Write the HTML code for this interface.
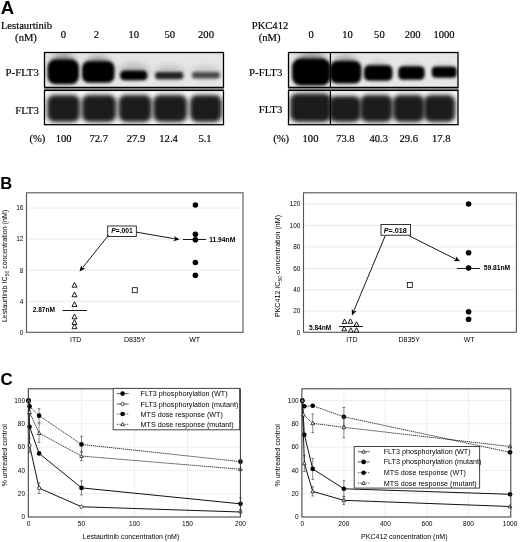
<!DOCTYPE html>
<html><head><meta charset="utf-8"><style>
html,body{margin:0;padding:0;background:#fff;}
svg{display:block;will-change:transform;}
text{font-family:"Liberation Sans",sans-serif;}
text.s{font-family:"Liberation Serif",serif;stroke:#000;stroke-width:0.18px;}
</style></head><body>
<svg width="520" height="542" viewBox="0 0 520 542">
<defs>
<filter id="b2" x="-50%" y="-50%" width="200%" height="200%"><feGaussianBlur stdDeviation="2"/></filter>
<filter id="b3" x="-50%" y="-50%" width="200%" height="200%"><feGaussianBlur stdDeviation="3"/></filter>
<clipPath id="cl1"><rect x="44.5" y="52.5" width="179" height="34.9"/></clipPath>
<clipPath id="cl2"><rect x="44.5" y="90.4" width="179" height="34.3"/></clipPath>
<clipPath id="cl3"><rect x="288.5" y="52.5" width="169.5" height="34.9"/></clipPath>
<clipPath id="cl4"><rect x="288.5" y="90.4" width="169.5" height="34.3"/></clipPath>
<filter id="b15" x="-50%" y="-50%" width="200%" height="200%"><feGaussianBlur stdDeviation="1.5"/></filter>
</defs>
<rect width="520" height="542" fill="#fff"/>
<text x="0.8" y="14.4" font-size="18.5" font-weight="bold">A</text>
<text class="s" x="26.5" y="29" font-size="10.6" text-anchor="middle">Lestaurtinib</text>
<text class="s" x="26" y="40.9" font-size="10.6" text-anchor="middle">(nM)</text>
<text class="s" x="63.5" y="37.7" font-size="10.6" text-anchor="middle">0</text>
<text class="s" x="96.5" y="37.7" font-size="10.6" text-anchor="middle">2</text>
<text class="s" x="133.7" y="37.7" font-size="10.6" text-anchor="middle">10</text>
<text class="s" x="169.7" y="37.7" font-size="10.6" text-anchor="middle">50</text>
<text class="s" x="206" y="37.7" font-size="10.6" text-anchor="middle">200</text>
<text class="s" x="38.8" y="76" font-size="10.8" text-anchor="end">P-FLT3</text>
<text class="s" x="38.8" y="113.5" font-size="10.8" text-anchor="end">FLT3</text>
<text class="s" x="45.4" y="141.5" font-size="10.6" text-anchor="end">(%)</text>
<text class="s" x="63.7" y="141.5" font-size="10.6" text-anchor="middle">100</text>
<text class="s" x="98.7" y="141.5" font-size="10.6" text-anchor="middle">72.7</text>
<text class="s" x="136" y="141.5" font-size="10.6" text-anchor="middle">27.9</text>
<text class="s" x="168.6" y="141.5" font-size="10.6" text-anchor="middle">12.4</text>
<text class="s" x="205" y="141.5" font-size="10.6" text-anchor="middle">5.1</text>
<text class="s" x="270" y="29.0" font-size="10.6" text-anchor="middle">PKC412</text>
<text class="s" x="269.6" y="40.9" font-size="10.6" text-anchor="middle">(nM)</text>
<text class="s" x="311.25" y="38.3" font-size="10.6" text-anchor="middle">0</text>
<text class="s" x="347.5" y="38.3" font-size="10.6" text-anchor="middle">10</text>
<text class="s" x="379.4" y="38.3" font-size="10.6" text-anchor="middle">50</text>
<text class="s" x="412.7" y="38.3" font-size="10.6" text-anchor="middle">200</text>
<text class="s" x="444" y="38.3" font-size="10.6" text-anchor="middle">1000</text>
<text class="s" x="282.3" y="76" font-size="10.8" text-anchor="end">P-FLT3</text>
<text class="s" x="282.3" y="113.3" font-size="10.8" text-anchor="end">FLT3</text>
<text class="s" x="289.1" y="141.5" font-size="10.6" text-anchor="end">(%)</text>
<text class="s" x="310.5" y="141.5" font-size="10.6" text-anchor="middle">100</text>
<text class="s" x="345.4" y="141.5" font-size="10.6" text-anchor="middle">73.8</text>
<text class="s" x="378.7" y="141.5" font-size="10.6" text-anchor="middle">40.3</text>
<text class="s" x="408.8" y="141.5" font-size="10.6" text-anchor="middle">29.6</text>
<text class="s" x="441.3" y="141.5" font-size="10.6" text-anchor="middle">17.8</text>
<rect x="44" y="87.5" width="180" height="2.6" fill="#8a8a8a"/>
<rect x="288" y="87.5" width="170.6" height="2.6" fill="#8a8a8a"/>
<rect x="44.5" y="52.5" width="179" height="34.9" fill="#e6e6e6"/>
<g clip-path="url(#cl1)">
<ellipse cx="63.25" cy="63.92" rx="12.39" ry="10.26" fill="#000" opacity="0.4" filter="url(#b3)"/>
<rect x="47.5" y="59.5" width="31.5" height="24.8" rx="7.98" fill="#000" filter="url(#b15)"/>
<ellipse cx="98.25" cy="65.22" rx="12.81" ry="8.78" fill="#000" opacity="0.4" filter="url(#b3)"/>
<rect x="82.0" y="61.3" width="32.5" height="21.5" rx="6.82" fill="#000" filter="url(#b15)"/>
<ellipse cx="134" cy="71" rx="15" ry="8" fill="#000" opacity="0.18" filter="url(#b3)"/>
<ellipse cx="169.5" cy="72" rx="15" ry="7" fill="#000" opacity="0.15" filter="url(#b3)"/>
<ellipse cx="206" cy="72.5" rx="15" ry="6.5" fill="#000" opacity="0.12" filter="url(#b3)"/>
<rect x="120" y="70.6" width="27.5" height="9.6" rx="4.5" fill="#000" filter="url(#b15)"/>
<rect x="155.2" y="71.9" width="28.1" height="7.4" rx="3" fill="#222" filter="url(#b15)"/>
<rect x="192.0" y="72.0" width="27.8" height="6.5" rx="3" fill="#4a4a4a" filter="url(#b15)"/>
</g>
<rect x="44.5" y="52.5" width="179.0" height="34.9" fill="none" stroke="#000" stroke-width="1.3"/>
<rect x="44.5" y="90.4" width="179" height="34.3" fill="#f6f6f6"/>
<g clip-path="url(#cl2)">
<rect x="47.2" y="94.9" width="32.8" height="27.0" rx="7" fill="#1c1c1c" filter="url(#b2)"/>
<rect x="81.8" y="94.9" width="34.4" height="27.0" rx="7" fill="#1c1c1c" filter="url(#b2)"/>
<rect x="118.6" y="94.9" width="33" height="27.0" rx="7" fill="#1c1c1c" filter="url(#b2)"/>
<rect x="153.2" y="94.9" width="34" height="27.0" rx="7" fill="#1c1c1c" filter="url(#b2)"/>
<rect x="190.0" y="94.9" width="31.8" height="27.0" rx="7" fill="#1c1c1c" filter="url(#b2)"/>
</g>
<rect x="44.5" y="90.4" width="179.0" height="34.3" fill="none" stroke="#000" stroke-width="1.3"/>
<rect x="288.5" y="52.5" width="169.5" height="34.9" fill="#e6e6e6"/>
<g clip-path="url(#cl3)">
<ellipse cx="311.25" cy="63.25" rx="15.33" ry="11.25" fill="#000" opacity="0.35" filter="url(#b3)"/>
<rect x="292.0" y="58.5" width="38.5" height="27.0" rx="8.75" fill="#000" filter="url(#b15)"/>
<ellipse cx="345.7" cy="65.08" rx="12.35" ry="9.22" fill="#000" opacity="0.35" filter="url(#b3)"/>
<rect x="330.0" y="61.0" width="31.4" height="22.5" rx="7.17" fill="#000" filter="url(#b15)"/>
<ellipse cx="378.2" cy="68.24" rx="11.09" ry="6.12" fill="#000" opacity="0.2" filter="url(#b3)"/>
<rect x="364.0" y="65.2" width="28.4" height="15.6" rx="5" fill="#000" filter="url(#b15)"/>
<ellipse cx="411.45" cy="68.94" rx="10.29" ry="5.22" fill="#000" opacity="0.15" filter="url(#b3)"/>
<rect x="398.3" y="66.3" width="26.3" height="13.4" rx="4.5" fill="#000" filter="url(#b15)"/>
<ellipse cx="444.25" cy="68.67" rx="9.87" ry="4.41" fill="#000" opacity="0.1" filter="url(#b3)"/>
<rect x="431.8" y="66.5" width="24.9" height="11.2" rx="4" fill="#000" filter="url(#b15)"/>
</g>
<line x1="330.4" y1="52.5" x2="330.4" y2="87" stroke="#000" stroke-width="1.2"/>
<rect x="288.5" y="52.5" width="169.5" height="34.9" fill="none" stroke="#000" stroke-width="1.3"/>
<rect x="288.5" y="90.4" width="169.5" height="34.3" fill="#f6f6f6"/>
<g clip-path="url(#cl4)">
<rect x="290.1" y="93.4" width="41.1" height="28.5" rx="7" fill="#1c1c1c" filter="url(#b2)"/>
<rect x="329.1" y="95.9" width="31.9" height="26.0" rx="7" fill="#1c1c1c" filter="url(#b2)"/>
<rect x="360.2" y="94.9" width="32.4" height="27.0" rx="7" fill="#1c1c1c" filter="url(#b2)"/>
<rect x="392.8" y="94.9" width="31.8" height="27.0" rx="7" fill="#1c1c1c" filter="url(#b2)"/>
<rect x="423.8" y="94.9" width="31.4" height="27.0" rx="7" fill="#1c1c1c" filter="url(#b2)"/>
</g>
<line x1="330.4" y1="90.5" x2="330.4" y2="124.5" stroke="#000" stroke-width="1.2"/>
<rect x="288.5" y="90.4" width="169.5" height="34.3" fill="none" stroke="#000" stroke-width="1.3"/>
<text x="0.3" y="188.9" font-size="16.5" font-weight="bold">B</text>
<text x="23.4" y="334.8" font-size="6.45" text-anchor="end">0</text>
<line x1="26.5" y1="301.38" x2="241" y2="301.38" stroke="#eaeaea" stroke-width="1"/>
<text x="23.4" y="303.68" font-size="6.45" text-anchor="end">4</text>
<line x1="26.5" y1="270.26" x2="241" y2="270.26" stroke="#eaeaea" stroke-width="1"/>
<text x="23.4" y="272.56" font-size="6.45" text-anchor="end">8</text>
<line x1="26.5" y1="239.14" x2="241" y2="239.14" stroke="#eaeaea" stroke-width="1"/>
<text x="23.4" y="241.44" font-size="6.45" text-anchor="end">12</text>
<line x1="26.5" y1="208.02" x2="241" y2="208.02" stroke="#eaeaea" stroke-width="1"/>
<text x="23.4" y="210.32" font-size="6.45" text-anchor="end">16</text>
<rect x="26.5" y="192.8" width="216.5" height="139.5" fill="none" stroke="#555" stroke-width="1.1"/>
<path d="M74.5 282.43L77.0 287.18L72.0 287.18Z" fill="#fff" stroke="#000" stroke-width="0.9"/>
<path d="M74.5 292.02L77.0 296.77L72.0 296.77Z" fill="#fff" stroke="#000" stroke-width="0.9"/>
<path d="M74.5 301.82L77.0 306.57L72.0 306.57Z" fill="#fff" stroke="#000" stroke-width="0.9"/>
<path d="M74.5 314.02L77.0 318.77L72.0 318.77Z" fill="#fff" stroke="#000" stroke-width="0.9"/>
<path d="M74.5 319.62L77.0 324.38L72.0 324.38Z" fill="#fff" stroke="#000" stroke-width="0.9"/>
<path d="M74.5 323.93L77.0 328.68L72.0 328.68Z" fill="#fff" stroke="#000" stroke-width="0.9"/>
<line x1="62.5" y1="310.5" x2="87" y2="310.5" stroke="#000" stroke-width="0.9"/>
<text x="55" y="312.4" font-size="6.6" text-anchor="end" font-weight="bold">2.87nM</text>
<rect x="132.3" y="287.7" width="5" height="5" fill="#fff" stroke="#000" stroke-width="0.8"/>
<circle cx="195.4" cy="205" r="2.8" fill="#000"/>
<circle cx="195.4" cy="234.2" r="2.8" fill="#000"/>
<circle cx="195.4" cy="239.8" r="2.8" fill="#000"/>
<circle cx="195.4" cy="262.5" r="2.8" fill="#000"/>
<circle cx="195.4" cy="275.2" r="2.8" fill="#000"/>
<line x1="183" y1="239.5" x2="206" y2="239.5" stroke="#000" stroke-width="0.9"/>
<text x="209.2" y="242.2" font-size="6.7" font-weight="bold">11.94nM</text>
<rect x="107.7" y="226" width="28.6" height="10.4" fill="#fff" stroke="#000" stroke-width="0.8"/>
<text x="122" y="233.2" font-size="6.8" text-anchor="middle" font-weight="bold"><tspan font-style="italic">P</tspan>=.001</text>
<line x1="136.6" y1="232.2" x2="174.67" y2="238.75" stroke="#000" stroke-width="0.9"/>
<path d="M179.6 239.6L173.25 241.14L175.17 238.84L174.13 236.02Z" fill="#000"/>
<line x1="108.7" y1="235" x2="82.62" y2="267.6" stroke="#000" stroke-width="0.9"/>
<path d="M79.5 271.5L81.22 265.19L82.31 267.99L85.28 268.44Z" fill="#000"/>
<text x="75.6" y="341.9" font-size="7.0" text-anchor="middle">ITD</text>
<text x="134.6" y="341.9" font-size="7.0" text-anchor="middle">D835Y</text>
<text x="194.6" y="341.9" font-size="7.0" text-anchor="middle">WT</text>
<text transform="translate(6.9,265.9) rotate(-90)" font-size="7.1" text-anchor="middle" fill="#000">Lestaurtinib IC<tspan font-size="5" dy="1.8">50</tspan><tspan dy="-1.8"> concentration (nM)</tspan></text>
<text x="300.4" y="334.8" font-size="6.45" text-anchor="end">0</text>
<line x1="303.5" y1="311.1" x2="514.4" y2="311.1" stroke="#eaeaea" stroke-width="1"/>
<text x="300.4" y="313.4" font-size="6.45" text-anchor="end">20</text>
<line x1="303.5" y1="289.7" x2="514.4" y2="289.7" stroke="#eaeaea" stroke-width="1"/>
<text x="300.4" y="292.0" font-size="6.45" text-anchor="end">40</text>
<line x1="303.5" y1="268.3" x2="514.4" y2="268.3" stroke="#eaeaea" stroke-width="1"/>
<text x="300.4" y="270.6" font-size="6.45" text-anchor="end">60</text>
<line x1="303.5" y1="246.9" x2="514.4" y2="246.9" stroke="#eaeaea" stroke-width="1"/>
<text x="300.4" y="249.2" font-size="6.45" text-anchor="end">80</text>
<line x1="303.5" y1="225.5" x2="514.4" y2="225.5" stroke="#eaeaea" stroke-width="1"/>
<text x="300.4" y="227.8" font-size="6.45" text-anchor="end">100</text>
<line x1="303.5" y1="204.1" x2="514.4" y2="204.1" stroke="#eaeaea" stroke-width="1"/>
<text x="300.4" y="206.4" font-size="6.45" text-anchor="end">120</text>
<rect x="303.5" y="192.8" width="212.9" height="139.5" fill="none" stroke="#555" stroke-width="1.1"/>
<path d="M344.5 319.07L346.85 323.53L342.15 323.53Z" fill="#fff" stroke="#000" stroke-width="0.9"/>
<path d="M350.4 318.77L352.75 323.23L348.05 323.23Z" fill="#fff" stroke="#000" stroke-width="0.9"/>
<path d="M356.5 321.77L358.85 326.23L354.15 326.23Z" fill="#fff" stroke="#000" stroke-width="0.9"/>
<path d="M344.2 326.27L346.55 330.73L341.85 330.73Z" fill="#fff" stroke="#000" stroke-width="0.9"/>
<path d="M350.8 327.77L353.15 332.23L348.45 332.23Z" fill="#fff" stroke="#000" stroke-width="0.9"/>
<path d="M356.5 327.77L358.85 332.23L354.15 332.23Z" fill="#fff" stroke="#000" stroke-width="0.9"/>
<line x1="339" y1="326.5" x2="363" y2="326.5" stroke="#000" stroke-width="0.9"/>
<text x="331.3" y="330.3" font-size="6.6" text-anchor="end" font-weight="bold">5.84nM</text>
<rect x="407.3" y="282.5" width="5" height="5" fill="#fff" stroke="#000" stroke-width="0.8"/>
<circle cx="468.6" cy="204" r="2.8" fill="#000"/>
<circle cx="468.6" cy="252.7" r="2.8" fill="#000"/>
<circle cx="468.6" cy="268" r="2.8" fill="#000"/>
<circle cx="468.6" cy="311.8" r="2.8" fill="#000"/>
<circle cx="468.6" cy="319.2" r="2.8" fill="#000"/>
<line x1="457" y1="268.5" x2="480" y2="268.5" stroke="#000" stroke-width="0.9"/>
<text x="483.7" y="270.4" font-size="6.7" font-weight="bold">59.81nM</text>
<rect x="381" y="224.4" width="29.6" height="10.8" fill="#fff" stroke="#000" stroke-width="0.8"/>
<text x="395.3" y="232.6" font-size="7.2" text-anchor="middle" font-weight="bold"><tspan font-style="italic">P</tspan>=.018</text>
<line x1="409.2" y1="235.8" x2="455.53" y2="259.06" stroke="#000" stroke-width="0.9"/>
<path d="M460 261.3L453.47 260.93L455.98 259.28L455.8 256.28Z" fill="#000"/>
<line x1="385.2" y1="235.8" x2="353.83" y2="310.79" stroke="#000" stroke-width="0.9"/>
<path d="M351.9 315.4L351.82 308.86L353.64 311.25L356.61 310.87Z" fill="#000"/>
<text x="352" y="341.9" font-size="7.0" text-anchor="middle">ITD</text>
<text x="409.2" y="341.9" font-size="7.0" text-anchor="middle">D835Y</text>
<text x="469.2" y="341.9" font-size="7.0" text-anchor="middle">WT</text>
<text transform="translate(280.3,266.0) rotate(-90)" font-size="7.1" text-anchor="middle" fill="#000">PKC412 IC<tspan font-size="5" dy="1.8">50</tspan><tspan dy="-1.8"> concentration (nM)</tspan></text>
<text x="0.6" y="384.6" font-size="16.8" font-weight="bold">C</text>
<line x1="28.3" y1="493.7" x2="240.4" y2="493.7" stroke="#ececec" stroke-width="0.9"/>
<line x1="28.3" y1="470.4" x2="240.4" y2="470.4" stroke="#ececec" stroke-width="0.9"/>
<line x1="28.3" y1="447.1" x2="240.4" y2="447.1" stroke="#ececec" stroke-width="0.9"/>
<line x1="28.3" y1="423.8" x2="240.4" y2="423.8" stroke="#ececec" stroke-width="0.9"/>
<line x1="28.3" y1="400.5" x2="240.4" y2="400.5" stroke="#ececec" stroke-width="0.9"/>
<line x1="81.5" y1="388.8" x2="81.5" y2="517" stroke="#ececec" stroke-width="0.9"/>
<line x1="134.5" y1="388.8" x2="134.5" y2="517" stroke="#ececec" stroke-width="0.9"/>
<line x1="187.5" y1="388.8" x2="187.5" y2="517" stroke="#ececec" stroke-width="0.9"/>
<text x="25.0" y="519.3" font-size="6.45" text-anchor="end">0</text>
<text x="25.0" y="496.0" font-size="6.45" text-anchor="end">20</text>
<text x="25.0" y="472.7" font-size="6.45" text-anchor="end">40</text>
<text x="25.0" y="449.4" font-size="6.45" text-anchor="end">60</text>
<text x="25.0" y="426.1" font-size="6.45" text-anchor="end">80</text>
<text x="25.0" y="402.8" font-size="6.45" text-anchor="end">100</text>
<text x="28.5" y="526.4" font-size="6.6" text-anchor="middle">0</text>
<text x="81.5" y="526.4" font-size="6.6" text-anchor="middle">50</text>
<text x="134.5" y="526.4" font-size="6.6" text-anchor="middle">100</text>
<text x="187.5" y="526.4" font-size="6.6" text-anchor="middle">150</text>
<text x="240.5" y="526.4" font-size="6.6" text-anchor="middle">200</text>
<text x="131" y="539.2" font-size="7.0" text-anchor="middle">Lestaurtinib concentration (nM)</text>
<text transform="translate(7.4,455.4) rotate(-90)" font-size="7.2" text-anchor="middle" fill="#000">% untreated control</text>
<path d="M28.50 400.50 L29.56 426.71 L39.10 453.39 L81.50 487.88 L240.50 503.84" fill="none" stroke="#111" stroke-width="1.0"/>
<line x1="81.5" y1="494.87" x2="81.5" y2="480.88" stroke="#444" stroke-width="0.6"/>
<line x1="80.2" y1="494.87" x2="82.8" y2="494.87" stroke="#444" stroke-width="0.7"/>
<line x1="80.2" y1="480.88" x2="82.8" y2="480.88" stroke="#444" stroke-width="0.7"/>
<line x1="240.5" y1="509.66" x2="240.5" y2="498.01" stroke="#444" stroke-width="0.6"/>
<line x1="239.2" y1="509.66" x2="241.8" y2="509.66" stroke="#444" stroke-width="0.7"/>
<line x1="239.2" y1="498.01" x2="241.8" y2="498.01" stroke="#444" stroke-width="0.7"/>
<circle cx="28.5" cy="400.5" r="2.3" fill="#000"/>
<circle cx="29.56" cy="426.71" r="2.3" fill="#000"/>
<circle cx="39.1" cy="453.39" r="2.3" fill="#000"/>
<circle cx="81.5" cy="487.88" r="2.3" fill="#000"/>
<circle cx="240.5" cy="503.84" r="2.3" fill="#000"/>
<path d="M28.50 400.50 L29.56 445.35 L39.10 488.11 L81.50 506.75 L240.50 511.99" fill="none" stroke="#111" stroke-width="1.0"/>
<line x1="29.56" y1="452.34" x2="29.56" y2="438.36" stroke="#444" stroke-width="0.6"/>
<line x1="28.26" y1="452.34" x2="30.86" y2="452.34" stroke="#444" stroke-width="0.7"/>
<line x1="28.26" y1="438.36" x2="30.86" y2="438.36" stroke="#444" stroke-width="0.7"/>
<line x1="39.1" y1="493.35" x2="39.1" y2="482.87" stroke="#444" stroke-width="0.6"/>
<line x1="37.8" y1="493.35" x2="40.4" y2="493.35" stroke="#444" stroke-width="0.7"/>
<line x1="37.8" y1="482.87" x2="40.4" y2="482.87" stroke="#444" stroke-width="0.7"/>
<circle cx="28.5" cy="400.5" r="1.6" fill="#fff" stroke="#000" stroke-width="0.7"/>
<circle cx="29.56" cy="445.35" r="1.6" fill="#fff" stroke="#000" stroke-width="0.7"/>
<circle cx="39.1" cy="488.11" r="1.6" fill="#fff" stroke="#000" stroke-width="0.7"/>
<circle cx="81.5" cy="506.75" r="1.6" fill="#fff" stroke="#000" stroke-width="0.7"/>
<circle cx="240.5" cy="511.99" r="1.6" fill="#fff" stroke="#000" stroke-width="0.7"/>
<path d="M28.50 400.50 L29.56 406.32 L39.10 415.64 L81.50 444.42 L240.50 461.66" fill="none" stroke="#111" stroke-width="0.85" stroke-dasharray="1.3 0.7"/>
<line x1="29.56" y1="409.82" x2="29.56" y2="402.83" stroke="#444" stroke-width="0.6"/>
<line x1="28.26" y1="409.82" x2="30.86" y2="409.82" stroke="#444" stroke-width="0.7"/>
<line x1="28.26" y1="402.83" x2="30.86" y2="402.83" stroke="#444" stroke-width="0.7"/>
<line x1="39.1" y1="422.63" x2="39.1" y2="408.65" stroke="#444" stroke-width="0.6"/>
<line x1="37.8" y1="422.63" x2="40.4" y2="422.63" stroke="#444" stroke-width="0.7"/>
<line x1="37.8" y1="408.65" x2="40.4" y2="408.65" stroke="#444" stroke-width="0.7"/>
<line x1="81.5" y1="452.58" x2="81.5" y2="436.27" stroke="#444" stroke-width="0.6"/>
<line x1="80.2" y1="452.58" x2="82.8" y2="452.58" stroke="#444" stroke-width="0.7"/>
<line x1="80.2" y1="436.27" x2="82.8" y2="436.27" stroke="#444" stroke-width="0.7"/>
<circle cx="28.5" cy="400.5" r="2.3" fill="#000"/>
<circle cx="29.56" cy="406.32" r="2.3" fill="#000"/>
<circle cx="39.1" cy="415.64" r="2.3" fill="#000"/>
<circle cx="81.5" cy="444.42" r="2.3" fill="#000"/>
<circle cx="240.5" cy="461.66" r="2.3" fill="#000"/>
<path d="M28.50 400.50 L29.56 412.15 L39.10 433.12 L81.50 456.07 L240.50 469.24" fill="none" stroke="#111" stroke-width="0.85" stroke-dasharray="1.3 0.7"/>
<line x1="29.56" y1="415.64" x2="29.56" y2="408.65" stroke="#444" stroke-width="0.6"/>
<line x1="28.26" y1="415.64" x2="30.86" y2="415.64" stroke="#444" stroke-width="0.7"/>
<line x1="28.26" y1="408.65" x2="30.86" y2="408.65" stroke="#444" stroke-width="0.7"/>
<line x1="39.1" y1="442.44" x2="39.1" y2="423.8" stroke="#444" stroke-width="0.6"/>
<line x1="37.8" y1="442.44" x2="40.4" y2="442.44" stroke="#444" stroke-width="0.7"/>
<line x1="37.8" y1="423.8" x2="40.4" y2="423.8" stroke="#444" stroke-width="0.7"/>
<line x1="81.5" y1="460.73" x2="81.5" y2="451.41" stroke="#444" stroke-width="0.6"/>
<line x1="80.2" y1="460.73" x2="82.8" y2="460.73" stroke="#444" stroke-width="0.7"/>
<line x1="80.2" y1="451.41" x2="82.8" y2="451.41" stroke="#444" stroke-width="0.7"/>
<path d="M28.5 398.6L30.3 401.9L26.7 401.9Z" fill="#fff" stroke="#000" stroke-width="0.7"/>
<path d="M29.56 410.25L31.36 413.55L27.76 413.55Z" fill="#fff" stroke="#000" stroke-width="0.7"/>
<path d="M39.1 431.22L40.9 434.52L37.3 434.52Z" fill="#fff" stroke="#000" stroke-width="0.7"/>
<path d="M81.5 454.17L83.3 457.47L79.7 457.47Z" fill="#fff" stroke="#000" stroke-width="0.7"/>
<path d="M240.5 467.34L242.3 470.63L238.7 470.63Z" fill="#fff" stroke="#000" stroke-width="0.7"/>
<rect x="28.3" y="388.8" width="212.1" height="128.2" fill="none" stroke="#333" stroke-width="1"/>
<rect x="113.2" y="388.4" width="126.4" height="41.4" fill="#fff" stroke="#444" stroke-width="1"/>
<line x1="116.8" y1="393.6" x2="128.7" y2="393.6" stroke="#333" stroke-width="0.8"/>
<circle cx="122.6" cy="393.6" r="2.3" fill="#000"/>
<text x="140.6" y="396.1" font-size="7.2">FLT3 phosphorylation (WT)</text>
<line x1="116.8" y1="404.1" x2="128.7" y2="404.1" stroke="#333" stroke-width="0.8"/>
<circle cx="122.6" cy="404.1" r="1.6" fill="#fff" stroke="#000" stroke-width="0.7"/>
<text x="140.6" y="406.6" font-size="7.2">FLT3 phosphorylation (mutant)</text>
<line x1="116.8" y1="414" x2="128.7" y2="414" stroke="#333" stroke-width="0.8" stroke-dasharray="1.5 1"/>
<circle cx="122.6" cy="414" r="2.3" fill="#000"/>
<text x="140.6" y="416.5" font-size="7.2">MTS dose response (WT)</text>
<line x1="116.8" y1="424.3" x2="128.7" y2="424.3" stroke="#333" stroke-width="0.8" stroke-dasharray="1.5 1"/>
<path d="M122.6 422.4L124.4 425.7L120.8 425.7Z" fill="#fff" stroke="#000" stroke-width="0.7"/>
<text x="140.6" y="426.8" font-size="7.2">MTS dose response (mutant)</text>
<line x1="301.9" y1="493.7" x2="510.8" y2="493.7" stroke="#ececec" stroke-width="0.9"/>
<line x1="301.9" y1="470.4" x2="510.8" y2="470.4" stroke="#ececec" stroke-width="0.9"/>
<line x1="301.9" y1="447.1" x2="510.8" y2="447.1" stroke="#ececec" stroke-width="0.9"/>
<line x1="301.9" y1="423.8" x2="510.8" y2="423.8" stroke="#ececec" stroke-width="0.9"/>
<line x1="301.9" y1="400.5" x2="510.8" y2="400.5" stroke="#ececec" stroke-width="0.9"/>
<line x1="343.86" y1="388.8" x2="343.86" y2="517" stroke="#ececec" stroke-width="0.9"/>
<line x1="385.42" y1="388.8" x2="385.42" y2="517" stroke="#ececec" stroke-width="0.9"/>
<line x1="426.98" y1="388.8" x2="426.98" y2="517" stroke="#ececec" stroke-width="0.9"/>
<line x1="468.54" y1="388.8" x2="468.54" y2="517" stroke="#ececec" stroke-width="0.9"/>
<text x="298.6" y="519.3" font-size="6.45" text-anchor="end">0</text>
<text x="298.6" y="496.0" font-size="6.45" text-anchor="end">20</text>
<text x="298.6" y="472.7" font-size="6.45" text-anchor="end">40</text>
<text x="298.6" y="449.4" font-size="6.45" text-anchor="end">60</text>
<text x="298.6" y="426.1" font-size="6.45" text-anchor="end">80</text>
<text x="298.6" y="402.8" font-size="6.45" text-anchor="end">100</text>
<text x="302.3" y="526.4" font-size="6.6" text-anchor="middle">0</text>
<text x="343.86" y="526.4" font-size="6.6" text-anchor="middle">200</text>
<text x="385.42" y="526.4" font-size="6.6" text-anchor="middle">400</text>
<text x="426.98" y="526.4" font-size="6.6" text-anchor="middle">600</text>
<text x="468.54" y="526.4" font-size="6.6" text-anchor="middle">800</text>
<text x="510.1" y="526.4" font-size="6.6" text-anchor="middle">1000</text>
<text x="404.3" y="539.2" font-size="7.0" text-anchor="middle">PKC412 concentration (nM)</text>
<text transform="translate(280.2,455.4) rotate(-90)" font-size="7.2" text-anchor="middle" fill="#000">% untreated control</text>
<path d="M302.30 400.50 L304.38 463.41 L312.69 491.37 L343.86 500.34 L510.10 506.51" fill="none" stroke="#111" stroke-width="1.0"/>
<line x1="304.38" y1="471.56" x2="304.38" y2="455.25" stroke="#444" stroke-width="0.6"/>
<line x1="303.08" y1="471.56" x2="305.68" y2="471.56" stroke="#444" stroke-width="0.7"/>
<line x1="303.08" y1="455.25" x2="305.68" y2="455.25" stroke="#444" stroke-width="0.7"/>
<line x1="312.69" y1="496.03" x2="312.69" y2="486.71" stroke="#444" stroke-width="0.6"/>
<line x1="311.39" y1="496.03" x2="313.99" y2="496.03" stroke="#444" stroke-width="0.7"/>
<line x1="311.39" y1="486.71" x2="313.99" y2="486.71" stroke="#444" stroke-width="0.7"/>
<line x1="343.86" y1="504.42" x2="343.86" y2="496.26" stroke="#444" stroke-width="0.6"/>
<line x1="342.56" y1="504.42" x2="345.16" y2="504.42" stroke="#444" stroke-width="0.7"/>
<line x1="342.56" y1="496.26" x2="345.16" y2="496.26" stroke="#444" stroke-width="0.7"/>
<path d="M302.3 398.6L304.1 401.9L300.5 401.9Z" fill="#fff" stroke="#000" stroke-width="0.7"/>
<path d="M304.38 461.51L306.18 464.81L302.58 464.81Z" fill="#fff" stroke="#000" stroke-width="0.7"/>
<path d="M312.69 489.47L314.49 492.77L310.89 492.77Z" fill="#fff" stroke="#000" stroke-width="0.7"/>
<path d="M343.86 498.44L345.66 501.74L342.06 501.74Z" fill="#fff" stroke="#000" stroke-width="0.7"/>
<path d="M510.1 504.62L511.9 507.91L508.3 507.91Z" fill="#fff" stroke="#000" stroke-width="0.7"/>
<path d="M302.30 400.50 L304.38 434.75 L312.69 468.89 L343.86 488.81 L510.10 494.28" fill="none" stroke="#111" stroke-width="1.0"/>
<line x1="312.69" y1="479.37" x2="312.69" y2="458.4" stroke="#444" stroke-width="0.6"/>
<line x1="311.39" y1="479.37" x2="313.99" y2="479.37" stroke="#444" stroke-width="0.7"/>
<line x1="311.39" y1="458.4" x2="313.99" y2="458.4" stroke="#444" stroke-width="0.7"/>
<line x1="343.86" y1="496.96" x2="343.86" y2="480.65" stroke="#444" stroke-width="0.6"/>
<line x1="342.56" y1="496.96" x2="345.16" y2="496.96" stroke="#444" stroke-width="0.7"/>
<line x1="342.56" y1="480.65" x2="345.16" y2="480.65" stroke="#444" stroke-width="0.7"/>
<circle cx="302.3" cy="400.5" r="2.3" fill="#000"/>
<circle cx="304.38" cy="434.75" r="2.3" fill="#000"/>
<circle cx="312.69" cy="468.89" r="2.3" fill="#000"/>
<circle cx="343.86" cy="488.81" r="2.3" fill="#000"/>
<circle cx="510.1" cy="494.28" r="2.3" fill="#000"/>
<path d="M302.30 400.50 L304.38 406.32 L312.69 405.74 L343.86 416.81 L510.10 452.34" fill="none" stroke="#111" stroke-width="0.85" stroke-dasharray="1.3 0.7"/>
<line x1="343.86" y1="426.13" x2="343.86" y2="407.49" stroke="#444" stroke-width="0.6"/>
<line x1="342.56" y1="426.13" x2="345.16" y2="426.13" stroke="#444" stroke-width="0.7"/>
<line x1="342.56" y1="407.49" x2="345.16" y2="407.49" stroke="#444" stroke-width="0.7"/>
<circle cx="302.3" cy="400.5" r="2.3" fill="#000"/>
<circle cx="304.38" cy="406.32" r="2.3" fill="#000"/>
<circle cx="312.69" cy="405.74" r="2.3" fill="#000"/>
<circle cx="343.86" cy="416.81" r="2.3" fill="#000"/>
<circle cx="510.1" cy="452.34" r="2.3" fill="#000"/>
<path d="M302.30 400.50 L303.34 414.48 L312.69 423.33 L343.86 427.30 L510.10 446.52" fill="none" stroke="#111" stroke-width="0.85" stroke-dasharray="1.3 0.7"/>
<line x1="312.69" y1="432.65" x2="312.69" y2="414.01" stroke="#444" stroke-width="0.6"/>
<line x1="311.39" y1="432.65" x2="313.99" y2="432.65" stroke="#444" stroke-width="0.7"/>
<line x1="311.39" y1="414.01" x2="313.99" y2="414.01" stroke="#444" stroke-width="0.7"/>
<line x1="343.86" y1="437.78" x2="343.86" y2="416.81" stroke="#444" stroke-width="0.6"/>
<line x1="342.56" y1="437.78" x2="345.16" y2="437.78" stroke="#444" stroke-width="0.7"/>
<line x1="342.56" y1="416.81" x2="345.16" y2="416.81" stroke="#444" stroke-width="0.7"/>
<path d="M302.3 398.6L304.1 401.9L300.5 401.9Z" fill="#fff" stroke="#000" stroke-width="0.7"/>
<path d="M303.34 412.58L305.14 415.88L301.54 415.88Z" fill="#fff" stroke="#000" stroke-width="0.7"/>
<path d="M312.69 421.43L314.49 424.73L310.89 424.73Z" fill="#fff" stroke="#000" stroke-width="0.7"/>
<path d="M343.86 425.4L345.66 428.69L342.06 428.69Z" fill="#fff" stroke="#000" stroke-width="0.7"/>
<path d="M510.1 444.62L511.9 447.92L508.3 447.92Z" fill="#fff" stroke="#000" stroke-width="0.7"/>
<rect x="301.9" y="388.8" width="208.9" height="128.2" fill="none" stroke="#333" stroke-width="1"/>
<rect x="354.2" y="446.5" width="125.4" height="41.6" fill="#fff" stroke="#444" stroke-width="1"/>
<line x1="357.8" y1="451.7" x2="369.7" y2="451.7" stroke="#333" stroke-width="0.8"/>
<path d="M363.6 449.8L365.4 453.1L361.8 453.1Z" fill="#fff" stroke="#000" stroke-width="0.7"/>
<text x="383.7" y="454.2" font-size="7.2">FLT3 phosphorylation (WT)</text>
<line x1="357.8" y1="461.9" x2="369.7" y2="461.9" stroke="#333" stroke-width="0.8"/>
<circle cx="363.6" cy="461.9" r="2.3" fill="#000"/>
<text x="383.7" y="464.4" font-size="7.2">FLT3 phosphorylation (mutant)</text>
<line x1="357.8" y1="472.7" x2="369.7" y2="472.7" stroke="#333" stroke-width="0.8" stroke-dasharray="1.5 1"/>
<circle cx="363.6" cy="472.7" r="2.3" fill="#000"/>
<text x="383.7" y="475.2" font-size="7.2">MTS dose response (WT)</text>
<line x1="357.8" y1="483.1" x2="369.7" y2="483.1" stroke="#333" stroke-width="0.8" stroke-dasharray="1.5 1"/>
<path d="M363.6 481.2L365.4 484.5L361.8 484.5Z" fill="#fff" stroke="#000" stroke-width="0.7"/>
<text x="383.7" y="485.6" font-size="7.2">MTS dose response (mutant)</text>
</svg>
</body></html>
